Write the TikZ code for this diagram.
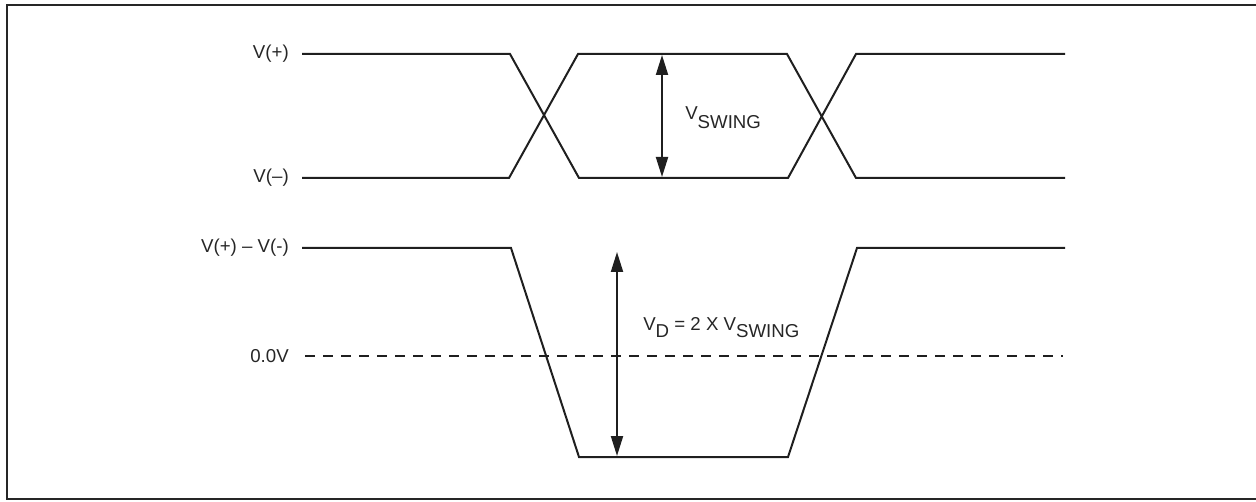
\documentclass[tikz,border=0pt]{standalone}
\usepackage{fontspec}
\setmainfont{Liberation Sans}
\usetikzlibrary{arrows.meta}
\begin{document}
\begin{tikzpicture}[x=0.75pt,y=-0.75pt,
  wave/.style={line width=1.5pt,line join=miter,color=black!88},
  frameline/.style={line width=2pt,color=black!85},
  dim/.style={line width=1.5pt,color=black!88,{Triangle[length=15pt,width=9pt]}-{Triangle[length=15pt,width=9pt]}},
  lbl/.style={anchor=east,inner sep=0pt,font=\fontsize{14}{16}\selectfont,text=black!85},
  txt/.style={anchor=base west,inner sep=0pt,font=\fontsize{14}{16}\selectfont,text=black!85},
  zero/.style={line width=1.5pt,color=black!88,dash pattern=on 7.5pt off 6pt}]
\useasboundingbox (0,0) rectangle (1256,502);
\draw[frameline] (1262,5) -- (7,5) -- (7,499) -- (1262,499);
% labels
\node[lbl] (lp) at (289,54) {V(+)};
\node[lbl] (lm) at (289,178) {V(–)};
\node[lbl] (ld) at (289,248) {V(+) – V(-)};
\node[lbl] (lz) at (289,356) {0.0V};
% coordinates of waveforms
\coordinate (p0) at (302,54);
\coordinate (p1) at (510,54);
\coordinate (p2) at (579,178);
\coordinate (p3) at (788,178);
\coordinate (p4) at (856,54);
\coordinate (p5) at (1065,54);
\coordinate (m0) at (302,178);
\coordinate (m1) at (509,178);
\coordinate (m2) at (578,54);
\coordinate (m3) at (787,54);
\coordinate (m4) at (856,178);
\coordinate (m5) at (1065,178);
\coordinate (d0) at (302,248);
\coordinate (d1) at (511,248);
\coordinate (d2) at (579,457);
\coordinate (d3) at (788,457);
\coordinate (d4) at (857,248);
\coordinate (d5) at (1065,248);
\coordinate (z0) at (305,356);
\coordinate (z1) at (1063,356);
\draw[wave] (p0) -- (p1) -- (p2) -- (p3) -- (p4) -- (p5);
\draw[wave] (m0) -- (m1) -- (m2) -- (m3) -- (m4) -- (m5);
\draw[wave] (d0) -- (d1) -- (d2) -- (d3) -- (d4) -- (d5);
\draw[zero] (z0) -- (z1);
% dimension arrows
\coordinate (s1) at (662,55);
\coordinate (s2) at (662,177);
\coordinate (v1) at (617,252);
\coordinate (v2) at (617,456);
\draw[dim] (s1) -- (s2);
\draw[dim] (v1) -- (v2);
\node[txt] (tsw) at (685,120) {V\raisebox{-6.75pt}{SWING}};
\node[txt] (tvd) at (643,330) {V\raisebox{-5.25pt}{D} = 2 X V\raisebox{-5.25pt}{SWING}};
\end{tikzpicture}
\end{document}
